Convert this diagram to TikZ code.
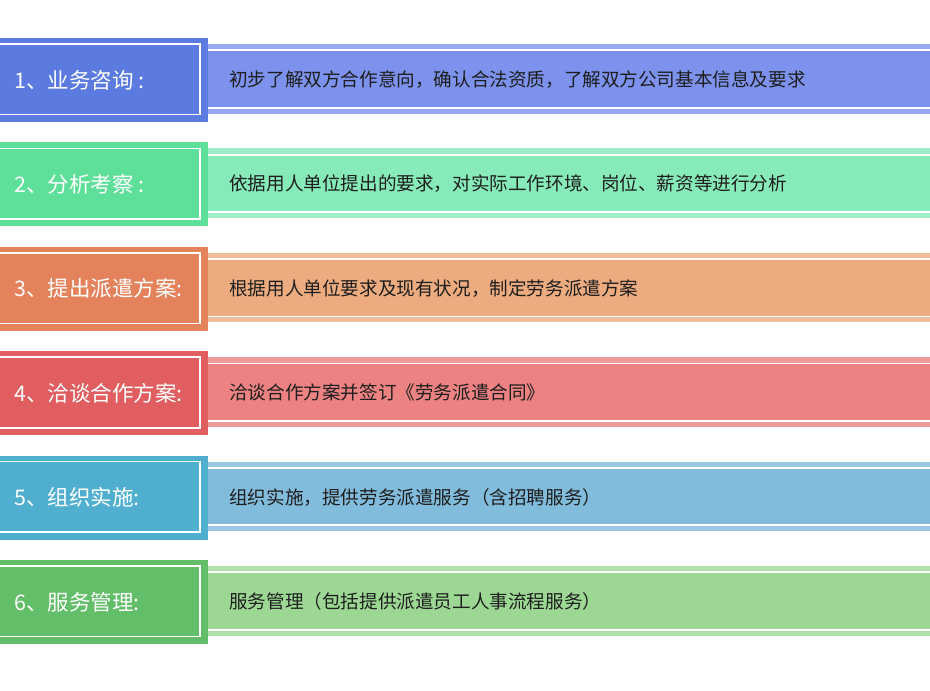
\documentclass[tikz,border=0pt]{standalone}
\usepackage{fontspec}
\setmainfont{Noto Sans CJK SC}
\definecolor{boxA}{HTML}{5B7BE0}\definecolor{bandA}{HTML}{7C92EC}
\definecolor{boxB}{HTML}{5EE09A}\definecolor{bandB}{HTML}{86EBB9}
\definecolor{boxC}{HTML}{E4825C}\definecolor{bandC}{HTML}{ECAC80}
\definecolor{boxD}{HTML}{E05E60}\definecolor{bandD}{HTML}{EC8282}
\definecolor{boxE}{HTML}{50AECF}\definecolor{bandE}{HTML}{82BCDC}
\definecolor{boxF}{HTML}{62BE68}\definecolor{bandF}{HTML}{9CD894}
\definecolor{txtdark}{HTML}{1E1E1E}
\tikzset{
  labeltext/.style={anchor=west,text=white,inner sep=0pt,font=\fontsize{21.5}{26}\selectfont},
  desctext/.style={anchor=west,text=txtdark,inner sep=0pt,font=\fontsize{18.6}{23}\selectfont},
  whiteline/.style={draw=white,line width=1.8pt},
  frameline/.style={draw=white,line width=1.6pt}
}
\begin{document}
\begin{tikzpicture}[x=1pt,y=-1pt]
\useasboundingbox (0,0) rectangle (930,691);
\foreach \i/\bc/\mc/\lab/\txt in {
 1/boxA/bandA/{1、业务咨询 :}/{初步了解双方合作意向，确认合法资质，了解双方公司基本信息及要求},
 2/boxB/bandB/{2、分析考察 :}/{依据用人单位提出的要求，对实际工作环境、岗位、薪资等进行分析},
 3/boxC/bandC/{3、提出派遣方案:}/{根据用人单位要求及现有状况，制定劳务派遣方案},
 4/boxD/bandD/{4、洽谈合作方案:}/{洽谈合作方案并签订《劳务派遣合同》},
 5/boxE/bandE/{5、组织实施:}/{组织实施，提供劳务派遣服务（含招聘服务）},
 6/boxF/bandF/{6、服务管理:}/{服务管理（包括提供派遣员工人事流程服务）}}{
  \pgfmathsetmacro\T{38+(\i-1)*104.4}
  % right band
  \fill[\mc!80!white] (200,\T+6) rectangle (931,\T+75.5);
  \fill[\mc] (200,\T+12.5) rectangle (931,\T+69.5);
  \path[whiteline] (200,\T+12.2) -- (931,\T+12.2);
  \path[whiteline] (200,\T+69.6) -- (931,\T+69.6);
  % left box
  \fill[\bc] (-5,\T) rectangle (208,\T+84);
  \path[frameline] (-5,\T+6) -- (200,\T+6) -- (200,\T+76.5) -- (-5,\T+76.5);
  \node[labeltext] (lab\i) at (14,\T+42) {\lab};
  \node[desctext] (txt\i) at (229,\T+41.5) {\txt};
}
\end{tikzpicture}
\end{document}
